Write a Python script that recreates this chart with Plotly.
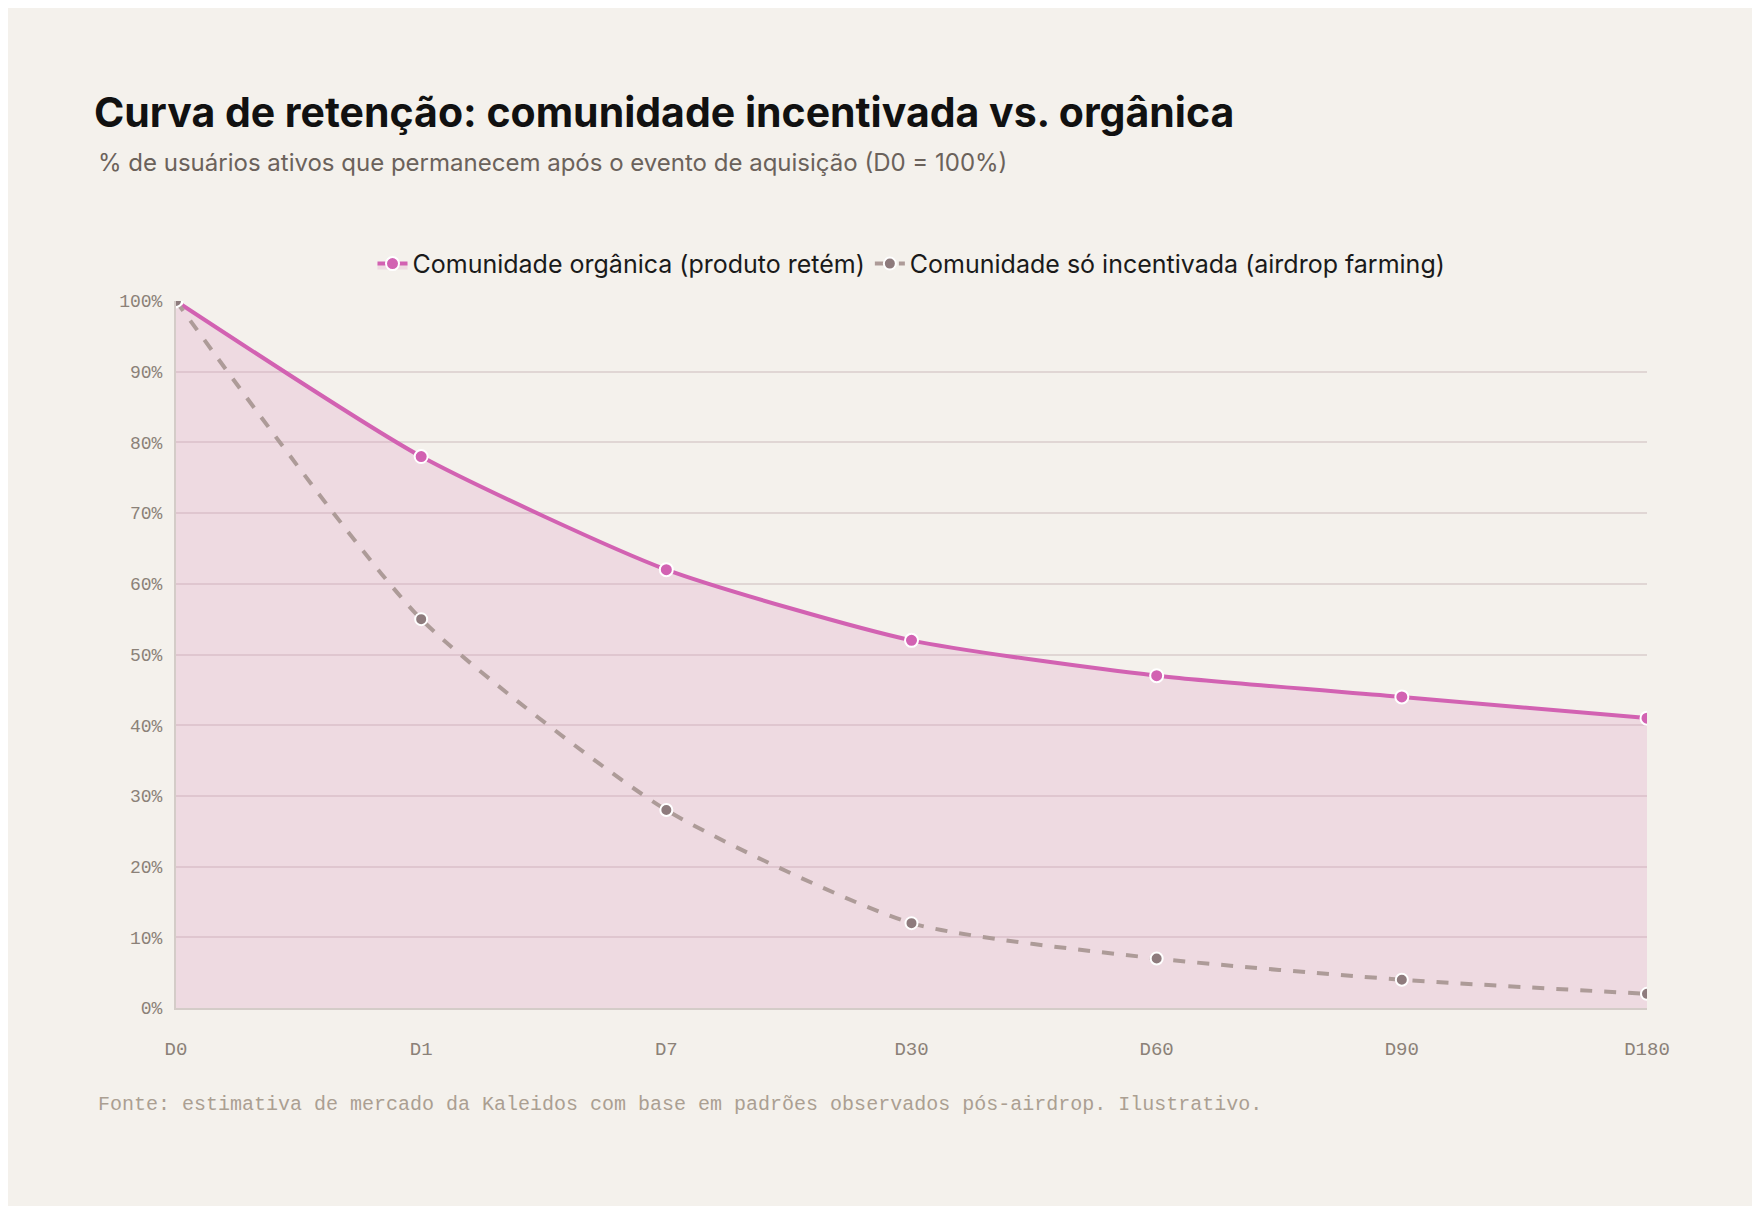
import plotly.graph_objects as go

dias = ["D0", "D1", "D7", "D30", "D60", "D90", "D180"]
organica = [100, 78, 62, 52, 47, 44, 41]
incentivada = [100, 55, 28, 12, 7, 4, 2]

BG = "#f4f1ec"
MONO = "Liberation Mono, Courier New, monospace"

fig = go.Figure()

fig.add_trace(go.Scatter(
    x=dias, y=organica,
    name="Comunidade orgânica (produto retém)",
    mode="lines+markers",
    line=dict(color="#d262b2", width=4, shape="spline", smoothing=0.6),
    marker=dict(size=13, color="#d262b2", line=dict(color="white", width=2)),
    fill="tozeroy", fillcolor="rgba(220,150,190,0.25)",
))
fig.add_trace(go.Scatter(
    x=dias, y=incentivada,
    name="Comunidade só incentivada (airdrop farming)",
    mode="lines+markers",
    line=dict(color="#ad9b98", width=4, dash="dash", shape="spline", smoothing=0.6),
    marker=dict(size=12, color="#8e7b7d", line=dict(color="white", width=2)),
))

fig.update_layout(
    width=1760, height=1206,
    paper_bgcolor=BG, plot_bgcolor=BG,
    margin=dict(l=168, r=121, t=293, b=206),
    font=dict(family="Inter, Noto Sans, sans-serif", color="#1a1a1a"),
    title=dict(
        text="<b>Curva de retenção: comunidade incentivada vs. orgânica</b>",
        x=86 / 1760, xanchor="left", y=1 - 105 / 1206, yanchor="middle",
        font=dict(size=41, color="#111111"),
    ),
    legend=dict(
        orientation="h", x=0.5, xanchor="center", y=1.02, yanchor="bottom",
        font=dict(size=25, color="#1a1a1a"), bgcolor="rgba(0,0,0,0)",
    ),
    showlegend=True,
)

fig.add_annotation(
    text="% de usuários ativos que permanecem após o evento de aquisição (D0 = 100%)",
    xref="paper", yref="paper", x=-80 / 1471, xanchor="left",
    y=1 + (293 - 155) / 707, yanchor="middle", showarrow=False,
    font=dict(size=24, color="#6b625b"),
)
fig.add_annotation(
    text="Fonte: estimativa de mercado da Kaleidos com base em padrões observados pós-airdrop. Ilustrativo.",
    xref="paper", yref="paper", x=-80 / 1471, xanchor="left",
    y=-(1096 - 1000) / 707, yanchor="middle", showarrow=False,
    font=dict(size=20, color="#ab9f92", family=MONO),
)

fig.update_xaxes(
    range=[0, 6], showgrid=False, zeroline=False,
    showline=True, linecolor="#d4ccc8", linewidth=2,
    ticks="", ticklabelstandoff=22,
    tickfont=dict(family=MONO, size=19, color="#8b8178"),
)
fig.update_yaxes(
    range=[0, 100], dtick=10, ticksuffix="%",
    showgrid=True, gridcolor="#e0d6d4", gridwidth=1.5, zeroline=False,
    showline=True, linecolor="#d4ccc8", linewidth=2,
    ticks="outside", ticklen=8, tickcolor="rgba(0,0,0,0)",
    tickfont=dict(family=MONO, size=18, color="#8b8178"),
)

fig.write_html("out.html")
